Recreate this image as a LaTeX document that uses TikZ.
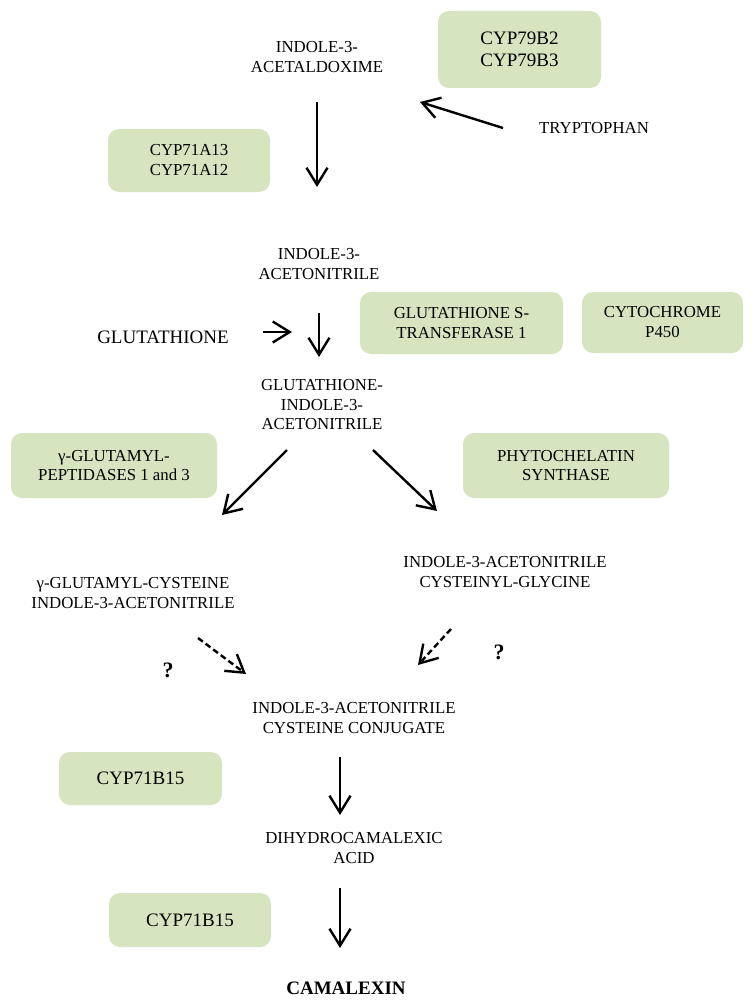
\documentclass[tikz,border=0pt]{standalone}
\usepackage{fontspec}
\setmainfont{Liberation Serif}
\usetikzlibrary{arrows.meta}
\definecolor{boxgreen}{RGB}{214,229,192}
\begin{document}
\begin{tikzpicture}[x=1pt,y=-1pt,
  enzyme/.style={fill=boxgreen,rounded corners=11pt,draw=none,align=center,inner sep=0pt},
  chem/.style={align=center,inner sep=0pt,font=\fontsize{16.8}{20}\selectfont},
  conv/.style={line width=2.4pt,-{Straight Barb[length=17pt,width=21pt,line width=2.4pt]}},
  dconv/.style={conv,dash pattern=on 6pt off 3.5pt}
]
\useasboundingbox (0,0) rectangle (752,1006);
\fill[white] (0,0) rectangle (752,1006);
% enzyme boxes
\node[enzyme,minimum width=163pt,minimum height=77pt,font=\fontsize{19}{22}\selectfont] (b79) at (519.5,49.5) {CYP79B2\\CYP79B3};
\node[enzyme,minimum width=162pt,minimum height=63pt,font=\fontsize{16.8}{20}\selectfont] (b71a) at (189,160.5) {CYP71A13\\CYP71A12};
\node[enzyme,minimum width=203pt,minimum height=62pt,font=\fontsize{16.8}{20}\selectfont] (bgst) at (461.5,323) {GLUTATHIONE S-\\TRANSFERASE 1};
\node[enzyme,minimum width=161pt,minimum height=61pt,font=\fontsize{16.8}{20}\selectfont] (bcyt) at (662.5,322.5) {CYTOCHROME\\P450};
\node[enzyme,minimum width=206pt,minimum height=65pt,font=\fontsize{16.8}{19}\selectfont] (bpcs) at (566,465.5) {PHYTOCHELATIN\\SYNTHASE};
\node[enzyme,minimum width=206pt,minimum height=65pt,font=\fontsize{16.8}{19}\selectfont] (bggp) at (114,465.5) {γ-GLUTAMYL-\\PEPTIDASES 1 and 3};
\node[enzyme,minimum width=163pt,minimum height=53pt,font=\fontsize{19}{22}\selectfont] (bb15a) at (140.5,778.5) {CYP71B15};
\node[enzyme,minimum width=162pt,minimum height=54pt,font=\fontsize{19}{22}\selectfont] (bb15b) at (190,920) {CYP71B15};
% compounds
\node[chem] (iaox) at (317,57) {INDOLE-3-\\ACETALDOXIME};
\node[chem] (trp) at (594,128) {TRYPTOPHAN};
\node[chem] (ian) at (319,264) {INDOLE-3-\\ACETONITRILE};
\node[chem,font=\fontsize{19}{22}\selectfont] (glu) at (163,337) {GLUTATHIONE};
\node[chem,font=\fontsize{16.8}{19.5}\selectfont] (gian) at (322,405) {GLUTATHIONE-\\INDOLE-3-\\ACETONITRILE};
\node[chem] (ggc) at (133,593) {γ-GLUTAMYL-CYSTEINE\\INDOLE-3-ACETONITRILE};
\node[chem] (iacg) at (505,572) {INDOLE-3-ACETONITRILE\\CYSTEINYL-GLYCINE};
\node[chem] (iacc) at (354,718) {INDOLE-3-ACETONITRILE\\CYSTEINE CONJUGATE};
\node[chem] (dca) at (354,848) {DIHYDROCAMALEXIC\\ACID};
\node[chem,font=\fontsize{19}{22}\selectfont\bfseries] (cam) at (346,988) {CAMALEXIN};
\node[chem,font=\fontsize{22}{24}\selectfont\bfseries] (q1) at (168,670) {?};
\node[chem,font=\fontsize{22}{24}\selectfont\bfseries] (q2) at (499,652) {?};
% arrow end points
\coordinate (a1s) at (317,102); \coordinate (a1e) at (317,187);
\coordinate (a2s) at (503,128); \coordinate (a2e) at (420,102);
\coordinate (a3s) at (263,332); \coordinate (a3e) at (292,332);
\coordinate (a4s) at (319,313); \coordinate (a4e) at (319,357);
\coordinate (a5s) at (287,450); \coordinate (a5e) at (222,515);
\coordinate (a6s) at (373,450); \coordinate (a6e) at (437,511);
\coordinate (a7s) at (198,638); \coordinate (a7e) at (246,674);
\coordinate (a8s) at (451,629); \coordinate (a8e) at (418,665);
\coordinate (a9s) at (340,757); \coordinate (a9e) at (340,815);
\coordinate (a10s) at (340,888); \coordinate (a10e) at (340,948);
\draw[conv] (a1s) -- (a1e);
\draw[conv] (a2s) -- (a2e);
\draw[conv] (a3s) -- (a3e);
\draw[conv] (a4s) -- (a4e);
\draw[conv] (a5s) -- (a5e);
\draw[conv] (a6s) -- (a6e);
\draw[dconv] (a7s) -- (a7e);
\draw[dconv] (a8s) -- (a8e);
\draw[conv] (a9s) -- (a9e);
\draw[conv] (a10s) -- (a10e);
\end{tikzpicture}
\end{document}
